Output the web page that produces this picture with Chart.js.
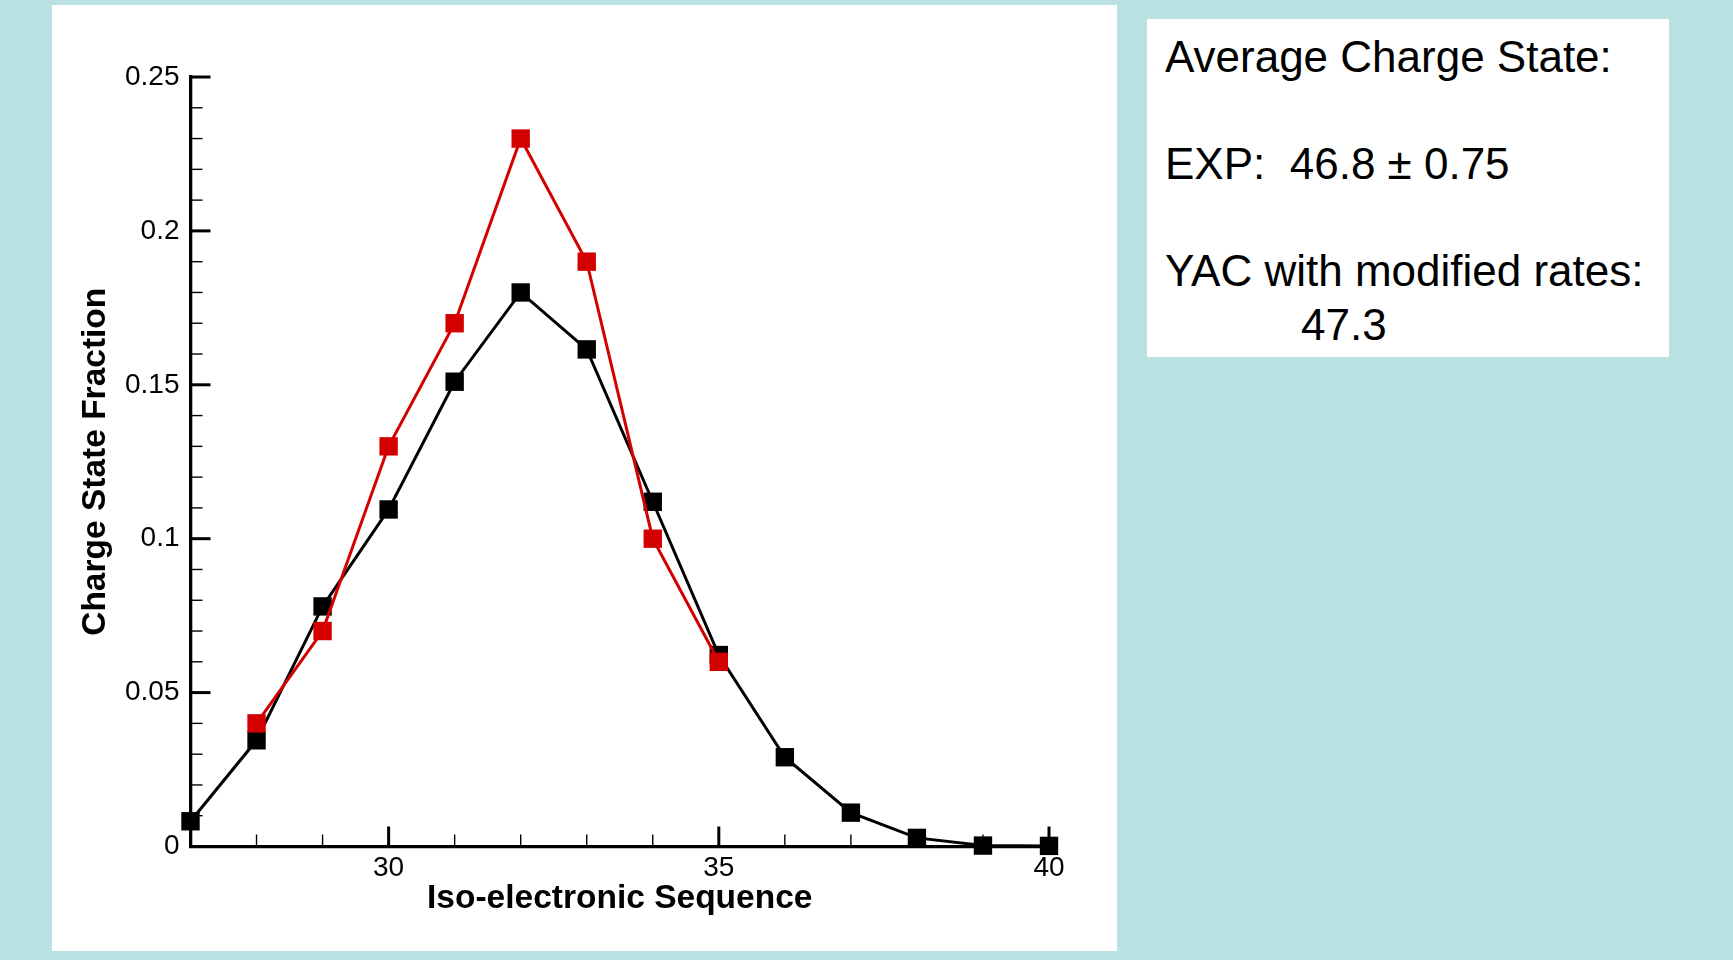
<!DOCTYPE html>
<html>
<head>
<meta charset="utf-8">
<script src="https://cdn.jsdelivr.net/npm/chart.js@4/dist/chart.umd.min.js"></script>
<style>
  html, body { margin: 0; padding: 0; }
  body {
    width: 1733px;
    height: 960px;
    background: #b9e0e3;
    position: relative;
    overflow: hidden;
    font-family: 'Liberation Sans', Arial, sans-serif;
  }
  #panel {
    position: absolute;
    left: 52px;
    top: 5px;
    width: 1065px;
    height: 946px;
    background: #fff;
  }
  #chart { display: block; }
  #note {
    position: absolute;
    left: 1147px;
    top: 19px;
    width: 522px;
    height: 338px;
    background: #fff;
    color: #000;
    font-size: 44px;
    line-height: 53.5px;
    box-sizing: border-box;
    padding: 11px 0 0 18px;
    white-space: nowrap;
  }
  #note .indent { padding-left: 136px; }
</style>
</head>
<body>
<div id="panel"><canvas id="chart" width="1065" height="946"></canvas></div>
<div id="note">
  Average Charge State:<br><br>
  EXP:&nbsp; 46.8 ± 0.75<br><br>
  YAC with modified rates:<br>
  <span class="indent">47.3</span>
</div>
<script>
// iso-electronic sequence numbers
const yacStates = [27, 28, 29, 30, 31, 32, 33, 34, 35, 36, 37, 38, 39, 40];
const yacFraction = [0.0082, 0.0345, 0.078, 0.1095, 0.151, 0.180, 0.1615, 0.112, 0.0622, 0.029, 0.011, 0.0028, 0.0003, 0.0002];

const expStates = [28, 29, 30, 31, 32, 33, 34, 35];
const expFraction = [0.040, 0.070, 0.130, 0.170, 0.230, 0.190, 0.100, 0.060];

const xTickValues = [30, 35, 40];
const yTickValues = [0, 0.05, 0.1, 0.15, 0.2, 0.25];
const xMinorStep = 1;
const yMinorStep = 0.01;

const toPoints = (xs, ys) => xs.map((x, i) => ({ x, y: ys[i] }));

// ticks point inward, so draw them by hand off the scales
const inwardTicks = {
  id: 'inwardTicks',
  beforeDatasetsDraw(chart) {
    const { ctx, scales: { x, y } } = chart;
    ctx.save();
    ctx.strokeStyle = '#000';
    const isMajor = (v, list) => list.some(t => Math.abs(t - v) < 1e-9);

    for (let v = x.min; v <= x.max + 1e-9; v += xMinorStep) {
      const px = x.getPixelForValue(v);
      const major = isMajor(v, xTickValues);
      ctx.lineWidth = major ? 3 : 1.4;
      ctx.beginPath();
      ctx.moveTo(px, y.bottom);
      ctx.lineTo(px, y.bottom - (major ? 20 : 12));
      ctx.stroke();
    }
    const steps = Math.round((y.max - y.min) / yMinorStep);
    for (let k = 0; k <= steps; k++) {
      const v = y.min + k * yMinorStep;
      const py = y.getPixelForValue(v);
      const major = isMajor(v, yTickValues);
      ctx.lineWidth = major ? 3 : 1.4;
      ctx.beginPath();
      ctx.moveTo(x.left, py);
      ctx.lineTo(x.left + (major ? 20 : 12), py);
      ctx.stroke();
    }
    ctx.restore();
  }
};

const font = 'Liberation Sans, Arial, sans-serif';

new Chart(document.getElementById('chart'), {
  type: 'line',
  data: {
    datasets: [
      {
        label: 'EXP',
        data: toPoints(expStates, expFraction),
        borderColor: '#d40000',
        backgroundColor: '#d40000',
        borderWidth: 3,
        pointStyle: 'rect',
        pointRadius: 13,
        pointHoverRadius: 13,
        pointBorderWidth: 0,
        tension: 0,
        clip: false
      },
      {
        label: 'YAC',
        data: toPoints(yacStates, yacFraction),
        borderColor: '#000',
        backgroundColor: '#000',
        borderWidth: 3,
        pointStyle: 'rect',
        pointRadius: 13,
        pointHoverRadius: 13,
        pointBorderWidth: 0,
        tension: 0,
        clip: false
      }
    ]
  },
  options: {
    responsive: false,
    animation: false,
    layout: { padding: { top: 72, right: 68, left: 0, bottom: 0 } },
    plugins: {
      legend: { display: false },
      tooltip: { enabled: false }
    },
    scales: {
      x: {
        type: 'linear',
        min: 27,
        max: 40,
        grid: { display: false, drawTicks: false },
        border: { display: true, color: '#000', width: 3.3 },
        afterBuildTicks: scale => { scale.ticks = xTickValues.map(value => ({ value })); },
        afterFit: scale => { scale.height = 104.5; },
        ticks: {
          color: '#000',
          padding: 5,
          maxRotation: 0,
          autoSkip: false,
          font: { family: font, size: 28 }
        },
        title: {
          display: true,
          text: 'Iso-electronic Sequence',
          color: '#000',
          padding: { top: 0, bottom: 32 },
          font: { family: font, size: 33.5, weight: 'bold' }
        }
      },
      y: {
        min: 0,
        max: 0.25,
        grid: { display: false, drawTicks: false },
        border: { display: true, color: '#000', width: 3.3 },
        afterBuildTicks: scale => { scale.ticks = yTickValues.map(value => ({ value })); },
        afterFit: scale => { scale.width = 138.5; },
        ticks: {
          color: '#000',
          padding: 11,
          autoSkip: false,
          font: { family: font, size: 28 },
          callback: v => String(Number(v.toFixed(2)))
        },
        title: {
          display: true,
          text: 'Charge State Fraction',
          color: '#000',
          padding: { top: 23.5, bottom: 0 },
          font: { family: font, size: 33.5, weight: 'bold' }
        }
      }
    }
  },
  plugins: [inwardTicks]
});
</script>
</body>
</html>
